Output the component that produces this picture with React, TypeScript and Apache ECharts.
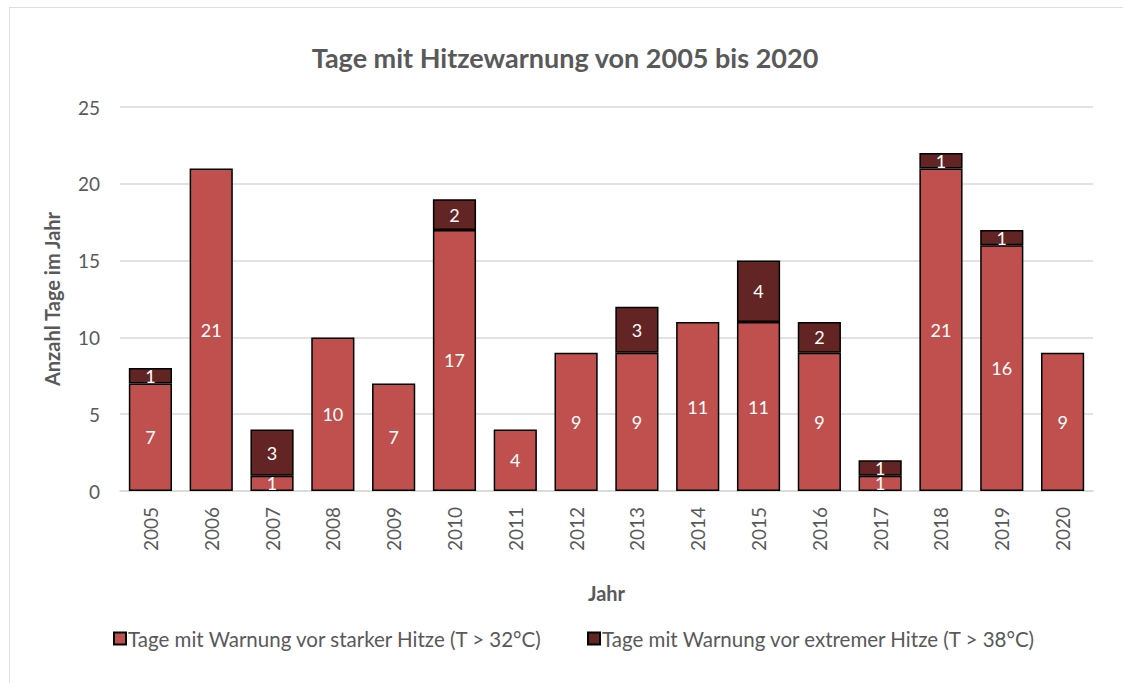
import React, { useEffect, useRef } from "react";
import * as echarts from "echarts";

const years = ["2005","2006","2007","2008","2009","2010","2011","2012","2013","2014","2015","2016","2017","2018","2019","2020"];
const strongHeat = [7, 21, 1, 10, 7, 17, 4, 9, 9, 11, 11, 9, 1, 21, 16, 9];
const extremeHeat = [1, 0, 3, 0, 0, 2, 0, 0, 3, 0, 4, 2, 1, 1, 1, 0];
const seriesNames = [
  "Tage mit Warnung vor starker Hitze (T > 32°C)",
  "Tage mit Warnung vor extremer Hitze (T > 38°C)",
];
const yTicks = { min: 0, max: 25, interval: 5 };

const FONT = "Lato";
const GREY = "#595959";

export default function App() {
  const ref = useRef<HTMLDivElement>(null);
  useEffect(() => {
    if (!ref.current) return;
    const chart = echarts.init(ref.current, undefined, { renderer: "svg" });
    const label = {
      show: true,
      position: "inside",
      color: "#ffffff",
      fontFamily: FONT,
      fontSize: 18,
      formatter: (p: any) => (p.value ? String(p.value) : ""),
    };
    const noZero = (arr: number[]) => arr.map((v) => (v === 0 ? null : v));
    chart.setOption({
      animation: false,
      backgroundColor: "#ffffff",
      textStyle: { fontFamily: FONT },
      title: {
        text: "Tage mit Hitzewarnung von 2005 bis 2020",
        left: 560,
        textAlign: "center",
        top: 39,
        textStyle: { fontFamily: FONT, fontSize: 27, fontWeight: "bold", color: GREY },
      },
      graphic: [
        {
          type: "rect",
          shape: { x: 9.5, y: 7.5, width: 1300, height: 900 },
          style: { fill: "none", stroke: "#BFBFBF", lineWidth: 1, lineDash: [1, 1] },
          silent: true,
          z: -1,
        },
      ],
      grid: { left: 120, right: 30, top: 107, bottom: 192, containLabel: false },
      legend: {
        top: 623,
        left: 108,
        itemGap: 44,
        itemWidth: 12,
        itemHeight: 12,
        icon: "rect",
        textStyle: { fontFamily: FONT, fontSize: 20.5, color: GREY, padding: [0, 0, 0, -3] },
        data: seriesNames,
      },
      xAxis: {
        type: "category",
        data: years,
        name: "Jahr",
        nameLocation: "middle",
        nameGap: 92,
        nameTextStyle: { fontFamily: FONT, fontSize: 20, fontWeight: "bold", color: GREY },
        axisLine: { lineStyle: { color: "#D9D9D9", width: 1.5 } },
        axisTick: { show: false },
        axisLabel: { rotate: 90, fontFamily: FONT, fontSize: 19, color: GREY, margin: 16 },
      },
      yAxis: {
        type: "value",
        min: yTicks.min,
        max: yTicks.max,
        interval: yTicks.interval,
        name: "Anzahl Tage im Jahr",
        nameLocation: "middle",
        nameGap: 58,
        nameTextStyle: { fontFamily: FONT, fontSize: 20, fontWeight: "bold", color: GREY },
        axisLine: { show: false },
        axisTick: { show: false },
        axisLabel: { fontFamily: FONT, fontSize: 19, color: GREY, margin: 20 },
        splitLine: { lineStyle: { color: "#D9D9D9", width: 1.5 } },
      },
      series: [
        {
          name: seriesNames[0],
          type: "bar",
          stack: "total",
          data: noZero(strongHeat),
          barCategoryGap: "29%",
          itemStyle: { color: "#C0504D", borderColor: "#000000", borderWidth: 1.5 },
          label,
        },
        {
          name: seriesNames[1],
          type: "bar",
          stack: "total",
          data: noZero(extremeHeat),
          itemStyle: { color: "#632523", borderColor: "#000000", borderWidth: 1.5 },
          label,
        },
      ],
    });
    return () => chart.dispose();
  }, []);
  return (
    <div
      ref={ref}
      style={{ position: "fixed", left: 0, top: 0, width: 1123, height: 683 }}
    />
  );
}
